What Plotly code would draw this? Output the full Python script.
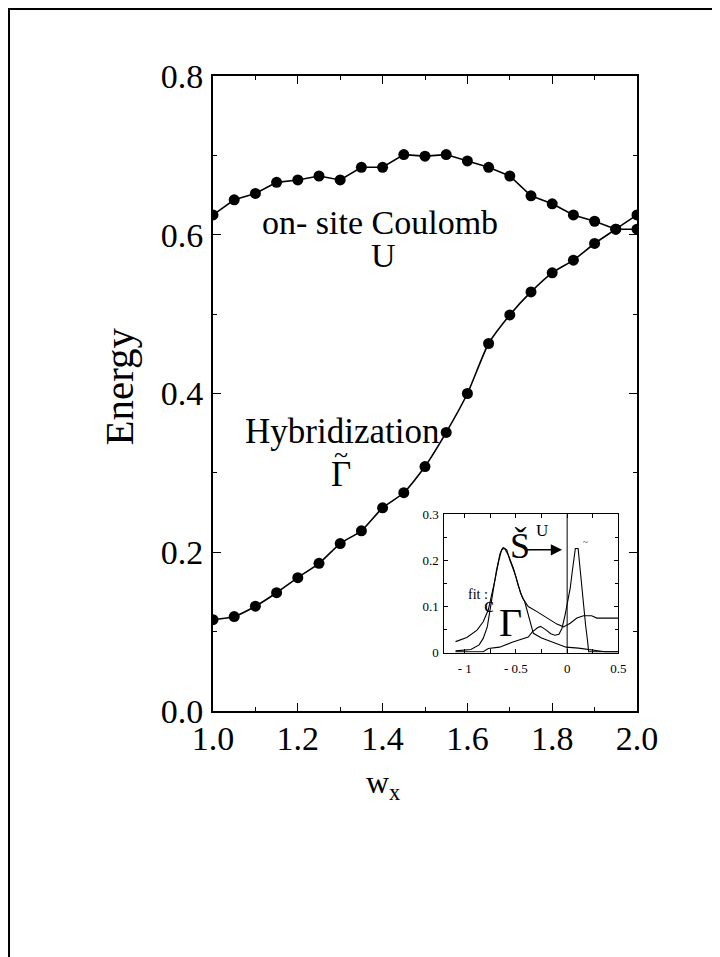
import plotly.graph_objects as go

# ---- main panel data ----
wx = [1.00, 1.05, 1.10, 1.15, 1.20, 1.25, 1.30, 1.35, 1.40, 1.45, 1.50,
      1.55, 1.60, 1.65, 1.70, 1.75, 1.80, 1.85, 1.90, 1.95, 2.00]
coulomb_U = [0.625, 0.644, 0.652, 0.666, 0.669, 0.674, 0.669, 0.685, 0.685, 0.701, 0.699,
             0.701, 0.693, 0.685, 0.674, 0.649, 0.639, 0.625, 0.617, 0.607, 0.607]
hybrid_G = [0.115, 0.119, 0.132, 0.149, 0.168, 0.186, 0.211, 0.227, 0.256, 0.275, 0.308,
            0.351, 0.400, 0.463, 0.499, 0.528, 0.552, 0.568, 0.589, 0.607, 0.625]
x_ticks = [1.0, 1.2, 1.4, 1.6, 1.8, 2.0]
x_ticklabels = ["1.0", "1.2", "1.4", "1.6", "1.8", "2.0"]
y_ticks = [0.0, 0.2, 0.4, 0.6, 0.8]
y_ticklabels = ["0.0", "0.2", "0.4", "0.6", "0.8"]

# ---- inset data ----
broad_x = [-1.09, -0.98, -0.88, -0.82, -0.77, -0.74, -0.705, -0.67, -0.64, -0.61, -0.575,
           -0.525, -0.48, -0.435, -0.38, -0.295, -0.20, -0.10, -0.035, 0.03, 0.095, 0.16,
           0.24, 0.29, 0.5]
broad_y = [0.024, 0.033, 0.049, 0.067, 0.093, 0.121, 0.158, 0.197, 0.224, 0.226, 0.212,
           0.183, 0.147, 0.118, 0.100, 0.089, 0.075, 0.062, 0.056, 0.064, 0.075, 0.080,
           0.080, 0.075, 0.075]
fit_x = [-1.09, -0.94, -0.86, -0.82, -0.78, -0.755, -0.72, -0.69, -0.655, -0.625, -0.59,
         -0.56, -0.50, -0.455, -0.415, -0.37, -0.33, -0.25, -0.11, -0.01, 0.11, 0.24, 0.37, 0.5]
fit_y = [0.004, 0.007, 0.017, 0.031, 0.056, 0.093, 0.136, 0.179, 0.215, 0.228, 0.223,
         0.201, 0.165, 0.129, 0.111, 0.075, 0.042, 0.032, 0.021, 0.012, 0.010, 0.006, 0.002, 0.002]
shift_x = [-1.09, -0.82, -0.77, -0.66, -0.53, -0.43, -0.38, -0.34, -0.29, -0.26, -0.21,
           -0.16, -0.12, -0.08, -0.05, -0.02, 0.005, 0.03, 0.05, 0.065, 0.08, 0.107, 0.123,
           0.14, 0.155, 0.18, 0.20, 0.21, 0.5]
shift_y = [0.002, 0.002, 0.009, 0.012, 0.023, 0.031, 0.034, 0.045, 0.054, 0.057, 0.050,
           0.041, 0.038, 0.040, 0.053, 0.082, 0.111, 0.140, 0.176, 0.208, 0.226, 0.226, 0.190,
           0.147, 0.103, 0.060, 0.024, 0.002, 0.002]
inset_xticks = [-1.0, -0.5, 0.0, 0.5]
inset_xticklabels = ["- 1", "- 0.5", "0", "0.5"]
inset_yticks = [0.0, 0.1, 0.2, 0.3]
inset_yticklabels = ["0", "0.1", "0.2", "0.3"]

SERIF = "Liberation Serif, Times New Roman, serif"

fig = go.Figure()
fig.add_trace(go.Scatter(x=wx, y=coulomb_U, mode="lines+markers",
                         line=dict(color="black", width=1.6),
                         marker=dict(color="black", size=11), showlegend=False))
fig.add_trace(go.Scatter(x=wx, y=hybrid_G, mode="lines+markers",
                         line=dict(color="black", width=1.6, shape="spline", smoothing=0.6),
                         marker=dict(color="black", size=11), showlegend=False))

for xs, ys in [(broad_x, broad_y), (fit_x, fit_y), (shift_x, shift_y)]:
    fig.add_trace(go.Scatter(x=xs, y=ys, mode="lines", xaxis="x2", yaxis="y2",
                             line=dict(color="black", width=1.1), showlegend=False))

# inset domain (paper)
ix0, ix1 = 0.5455, 0.956
iy0, iy1 = 0.0918, 0.3098

fig.update_layout(
    width=720, height=957,
    margin=dict(l=205, r=91, t=68, b=254),
    paper_bgcolor="white", plot_bgcolor="white",
    font=dict(family=SERIF, color="black"),
    xaxis=dict(range=[1.0, 2.0], tickvals=x_ticks, ticktext=x_ticklabels,
               ticks="inside", ticklen=8, tickwidth=1, tickcolor="black",
               showline=True, linewidth=2, linecolor="black", mirror="ticks",
               showgrid=False, zeroline=False, ticklabelstandoff=-4,
               minor=dict(dtick=0.1, ticks="inside", ticklen=4, tickcolor="black", showgrid=False),
               tickfont=dict(family=SERIF, size=34, color="black")),
    yaxis=dict(range=[0.0, 0.8], tickvals=y_ticks, ticktext=y_ticklabels,
               ticks="inside", ticklen=8, tickwidth=1, tickcolor="black",
               showline=True, linewidth=2, linecolor="black", mirror="ticks",
               showgrid=False, zeroline=False, ticklabelstandoff=1,
               minor=dict(dtick=0.1, ticks="inside", ticklen=4, tickcolor="black", showgrid=False),
               tickfont=dict(family=SERIF, size=34, color="black")),
    xaxis2=dict(domain=[ix0, ix1], anchor="y2", range=[-1.2, 0.5],
                tickvals=inset_xticks, ticktext=inset_xticklabels,
                ticks="inside", ticklen=4, tickwidth=1, tickcolor="black",
                showline=True, linewidth=1, linecolor="black", mirror="ticks",
                showgrid=False, zeroline=False, ticklabelstandoff=4,
                minor=dict(dtick=0.25, tick0=0, ticks="inside", ticklen=4, tickcolor="black", showgrid=False),
                tickfont=dict(family=SERIF, size=13, color="black")),
    yaxis2=dict(domain=[iy0, iy1], anchor="x2", range=[0.0, 0.3],
                tickvals=inset_yticks, ticktext=inset_yticklabels,
                ticks="inside", ticklen=4, tickwidth=1, tickcolor="black",
                showline=True, linewidth=1, linecolor="black", mirror="ticks",
                showgrid=False, zeroline=False, ticklabelstandoff=2,
                minor=dict(dtick=0.05, ticks="inside", ticklen=3, tickcolor="black", showgrid=False),
                tickfont=dict(family=SERIF, size=13, color="black")),
)

shapes = [
    # outer frame of the picture
    dict(type="rect", xref="paper", yref="paper", x0=-0.4811, x1=1.3, y0=-0.6, y1=1.1055,
         line=dict(color="black", width=2), fillcolor="rgba(0,0,0,0)", layer="above"),
    # inset vertical line at 0
    dict(type="line", xref="x2", yref="y2 domain", x0=0, x1=0, y0=0, y1=1,
         line=dict(color="black", width=1)),
]
fig.update_layout(shapes=shapes)


def txt(text, x, y, size, xref="x", yref="y", **kw):
    d = dict(text=text, x=x, y=y, xref=xref, yref=yref, showarrow=False,
             xanchor="center", yanchor="middle",
             font=dict(family=SERIF, size=size, color="black"))
    d.update(kw)
    return d


ann = [
    txt("on- site Coulomb", 1.393, 0.616, 34),
    txt("U", 1.403, 0.574, 34),
    txt("Hybridization", 1.305, 0.352, 35),
    txt("\u0393", 1.302, 0.298, 35),
    txt("~", 1.302, 0.323, 26),
    txt("Energy", -0.2205, 0.5102, 41, xref="paper", yref="paper", textangle=-90),
    txt("w<sub>x</sub>", 0.40, -0.1165, 32, xref="paper", yref="paper"),
    # inset labels
    txt("\u0160", -0.46, 0.232, 36, xref="x2", yref="y2"),
    txt("U", -0.25, 0.264, 17, xref="x2", yref="y2"),
    dict(text="", x=-0.05, y=0.223, ax=-0.41, ay=0.223, xref="x2", yref="y2",
         axref="x2", ayref="y2", showarrow=True, arrowhead=2, arrowsize=1.6,
         arrowwidth=1.4, arrowcolor="black"),
    txt("fit :", -0.87, 0.126, 14, xref="x2", yref="y2"),
    txt("c", -0.765, 0.105, 22, xref="x2", yref="y2"),
    txt("\u0393", -0.55, 0.066, 40, xref="x2", yref="y2"),
    txt("~", 0.175, 0.24, 9, xref="x2", yref="y2"),
]
fig.update_layout(annotations=ann)

fig.write_html("out.html")
